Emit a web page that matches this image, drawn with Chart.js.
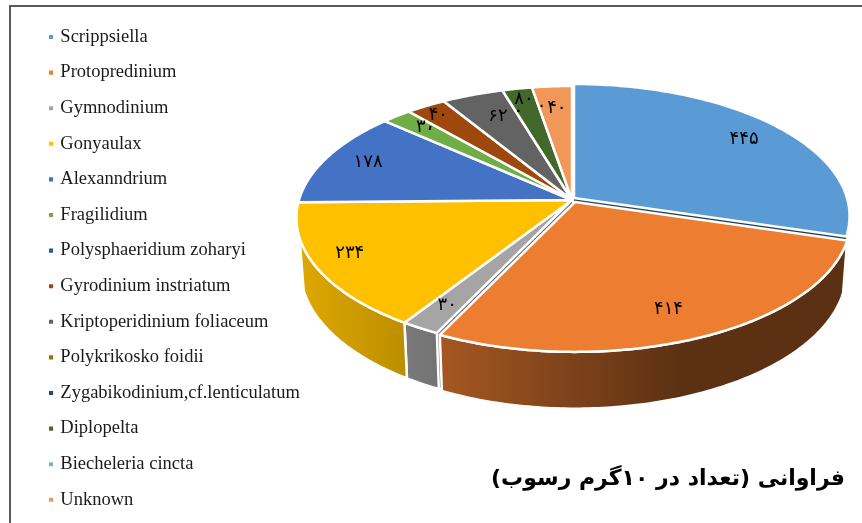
<!DOCTYPE html>
<html>
<head>
<meta charset="utf-8">
<style>
  html, body { margin: 0; padding: 0; background: #fff; }
  canvas { display: block; }
</style>
<script src="https://cdn.jsdelivr.net/npm/chart.js@4"></script>
</head>
<body>
<canvas id="pieChart" width="862" height="523"></canvas>
<script>
// Data
const categories = [
    'Scrippsiella', 'Protopredinium', 'Gymnodinium', 'Gonyaulax', 'Alexanndrium',
    'Fragilidium', 'Polysphaeridium zoharyi', 'Gyrodinium instriatum',
    'Kriptoperidinium foliaceum', 'Polykrikosko foidii',
    'Zygabikodinium,cf.lenticulatum', 'Diplopelta', 'Biecheleria cincta', 'Unknown'
];
const counts = [445, 414, 30, 234, 178, 30, 0, 40, 62, 0, 0, 30, 0, 40];
// the Diplopelta slice is drawn about the size of 30 but is printed as 80 in the picture
const countLabels = ['۴۴۵', '۴۱۴', '۳۰', '۲۳۴', '۱۷۸', '۳۰', '۰', '۴۰', '۶۲', '۰', '۰', '۸۰', '۰', '۴۰'];
const titleText = 'فراوانی (تعداد در ۱۰گرم رسوب)';

const colors = [
    '#5B9BD5', '#ED7D31', '#A5A5A5', '#FFC000', '#4472C4', '#70AD47', '#255E91',
    '#9E480E', '#636363', '#997300', '#264478', '#43682B', '#7CAFDD', '#F1975A'
];

// Tilted pie, fitted by eye
const pie = { cx: 572, cy: 200, rx: 273, ry: 129.5, k: 0.136, depth: 51 };
const sliceShift = { 0: [2, -2], 1: [3, 2] };
// hand placed labels in the original
const labelNudge = {
    1: [-7, -2], 3: [-10, -3], 4: [3, -1], 5: [3, -1], 6: [-3, 5], 7: [-9, -4],
    8: [11, 6], 9: [6, 5], 10: [6, 5], 11: [-1, -5], 12: [4, 3], 13: [2, 6]
};

function project(angle, r, down, shift) {
    const u = Math.cos(angle) * r;
    const v = Math.sin(angle) * r;
    const s = 1 / (1 - pie.k * v);
    const d = down ? 0.985 : 1;
    return [
        pie.cx + pie.rx * u * s * d + shift[0],
        pie.cy + pie.ry * v * s * d + (down ? pie.depth * s : 0) + shift[1]
    ];
}

function shade(hex, f) {
    const n = parseInt(hex.slice(1), 16);
    const r = Math.round((n >> 16) * f);
    const g = Math.round(((n >> 8) & 255) * f);
    const b = Math.round((n & 255) * f);
    return `rgb(${r},${g},${b})`;
}

function wallFill(ctx, color) {
    const grad = ctx.createLinearGradient(296, 0, 680, 0);
    grad.addColorStop(0, shade(color, 0.88));
    grad.addColorStop(1, shade(color, 0.39));
    return grad;
}

function tracePath(ctx, pts) {
    ctx.beginPath();
    pts.forEach((p, i) => i ? ctx.lineTo(p[0], p[1]) : ctx.moveTo(p[0], p[1]));
    ctx.closePath();
}

function paintPath(ctx, pts, fill) {
    tracePath(ctx, pts);
    ctx.fillStyle = fill;
    ctx.fill();
    ctx.strokeStyle = '#fff';
    ctx.lineWidth = 2.5;
    ctx.lineJoin = 'round';
    ctx.stroke();
}

function arcAngles(arc) {
    const list = [];
    const steps = Math.max(2, Math.ceil((arc.endAngle - arc.startAngle) / 0.015));
    for (let i = 0; i <= steps; i++) {
        list.push(arc.startAngle + (arc.endAngle - arc.startAngle) * i / steps);
    }
    return list;
}

function drawWall(ctx, arc, color, shift) {
    // only the part turned to the viewer has a side
    const front = arcAngles(arc).filter(a => Math.sin(a) >= 0.28);
    if (front.length < 2) return;
    const top = front.map(a => project(a, 1, false, shift));
    const bottom = front.slice().reverse().map(a => project(a, 1, true, shift));
    paintPath(ctx, top.concat(bottom), wallFill(ctx, color));
}

function drawCut(ctx, angle, color, shift) {
    tracePath(ctx, [
        project(angle, 0, false, shift), project(angle, 1, false, shift),
        project(angle, 1, true, shift), project(angle, 0, true, shift)
    ]);
    ctx.fillStyle = wallFill(ctx, color);
    ctx.fill();
}

function drawTop(ctx, arc, color, shift) {
    const pts = [project(0, 0, false, shift)];
    arcAngles(arc).forEach(a => pts.push(project(a, 1, false, shift)));
    paintPath(ctx, pts, color);
}

const tiltedPie = {
    id: 'tiltedPie',
    afterLayout(chart) {
        // the legend wraps to a second column if the padding alone pushes it down
        chart.legend.top += 3.65;
        chart.legend.bottom += 6;
    },
    beforeDraw(chart) {
        const ctx = chart.ctx;
        ctx.fillStyle = '#fff';
        ctx.fillRect(0, 0, chart.width, chart.height);
        // frame of the original figure
        ctx.fillStyle = '#595959';
        ctx.fillRect(9, 5, chart.width - 9, 2);
        ctx.fillRect(9, 5, 2, chart.height - 5);
    },
    beforeDatasetDraw(chart, args) {
        const ctx = chart.ctx;
        const arcs = chart.getDatasetMeta(args.index).data;
        const none = [0, 0];
        const pulled = arcs.map((arc, i) => !!sliceShift[i]);

        ctx.save();
        // sides seen through the gap left by the pulled out slice
        drawCut(ctx, arcs[0].endAngle, colors[0], sliceShift[0]);
        drawCut(ctx, arcs[2].startAngle, colors[2], none);
        arcs.forEach((arc, i) => {
            if (!pulled[i]) drawWall(ctx, arc, colors[i], none);
        });
        arcs.forEach((arc, i) => {
            if (!pulled[i] && arc.endAngle > arc.startAngle) drawTop(ctx, arc, colors[i], none);
        });
        drawTop(ctx, arcs[0], colors[0], sliceShift[0]);
        drawWall(ctx, arcs[1], colors[1], sliceShift[1]);
        drawTop(ctx, arcs[1], colors[1], sliceShift[1]);

        // count labels, the empty slices print their zero too
        ctx.fillStyle = '#000';
        ctx.font = '18px "DejaVu Sans"';
        ctx.textAlign = 'center';
        ctx.textBaseline = 'middle';
        arcs.forEach((arc, i) => {
            const mid = (arc.startAngle + arc.endAngle) / 2;
            const nudge = labelNudge[i] || none;
            const p = project(mid, 0.84, false, nudge);
            ctx.fillText(countLabels[i], p[0], p[1]);
        });
        ctx.restore();
        return false;
    },
    afterDraw(chart) {
        const ctx = chart.ctx;
        ctx.save();
        ctx.direction = 'rtl';
        ctx.textAlign = 'right';
        ctx.textBaseline = 'middle';
        ctx.fillStyle = '#000';
        ctx.font = 'bold 22px "DejaVu Sans"';
        ctx.fillText(titleText, 845, 479);
        ctx.restore();
    }
};

new Chart(document.getElementById('pieChart'), {
    type: 'pie',
    data: {
        labels: categories,
        datasets: [{
            data: counts,
            backgroundColor: colors,
            borderColor: colors,
            borderWidth: 4
        }]
    },
    options: {
        responsive: false,
        animation: false,
        layout: { padding: { left: 33.9, right: 17, bottom: 0, top: 7 } },
        plugins: {
            legend: {
                position: 'left',
                align: 'start',
                labels: {
                    boxWidth: 0.1,
                    boxHeight: 0.1,
                    padding: 17.1,
                    color: '#1a1a1a',
                    font: { family: '"Liberation Serif"', size: 18.5 }
                }
            },
            title: { display: false },
            tooltip: { enabled: false }
        }
    },
    plugins: [tiltedPie]
});
</script>
</body>
</html>
